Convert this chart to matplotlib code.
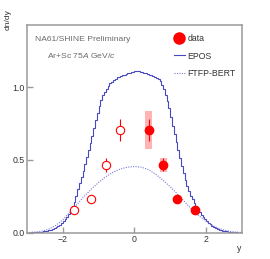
#=========================================================================
# plot.py
#=========================================================================
# NA61/SHINE Ar+Sc 75A GeV/c dn/dy vs rapidity, data vs EPOS and FTFP-BERT

import matplotlib
matplotlib.use('Agg')
import matplotlib.pyplot as plt
from matplotlib.lines import Line2D
import numpy as np

#-------------------------------------------------------------------------
# Data
#-------------------------------------------------------------------------

# measured points (positive rapidity) and their reflection
data_y     = [0.4, 0.8, 1.2, 1.7]
data_val   = [0.707, 0.466, 0.229, 0.155]
data_stat  = [0.075, 0.045, 0.010, 0.010]
data_sys   = [0.132, 0.048, 0.020, 0.015]

refl_y     = [-0.4, -0.8, -1.2, -1.7]
refl_val   = [0.707, 0.463, 0.229, 0.155]
refl_stat  = [0.078, 0.048, 0.010, 0.010]

# EPOS histogram, 0.05 wide bins from -3 to 3
epos_lo    = -3.0
epos_hi    = 3.0
epos_val   = [0.000, 0.000, 0.001, 0.001, 0.002, 0.002, 0.003, 0.004, 0.006, 0.007,
              0.009, 0.011, 0.014, 0.018, 0.023, 0.029, 0.036, 0.044, 0.053, 0.063,
              0.077, 0.091, 0.110, 0.130, 0.153, 0.180, 0.212, 0.250, 0.300, 0.340,
              0.380, 0.425, 0.470, 0.518, 0.568, 0.618, 0.668, 0.720, 0.772, 0.825,
              0.872, 0.910, 0.945, 0.968, 0.992, 1.012, 1.028, 1.040, 1.052, 1.060,
              1.070, 1.075, 1.080, 1.086, 1.088, 1.094, 1.098, 1.101, 1.103, 1.108,
              1.110, 1.114, 1.112, 1.106, 1.104, 1.098, 1.096, 1.090, 1.088, 1.084,
              1.078, 1.072, 1.066, 1.055, 1.042, 1.018, 0.990, 0.950, 0.905, 0.855,
              0.795, 0.735, 0.680, 0.625, 0.570, 0.515, 0.460, 0.408, 0.362, 0.320,
              0.285, 0.252, 0.228, 0.205, 0.182, 0.160, 0.140, 0.122, 0.106, 0.092,
              0.080, 0.068, 0.057, 0.047, 0.038, 0.031, 0.025, 0.020, 0.015, 0.012,
              0.009, 0.007, 0.005, 0.004, 0.003, 0.002, 0.001, 0.001, 0.000, 0.000]

# FTFP-BERT curve
ftfp_y     = [-3.0, -2.8, -2.6, -2.4, -2.2, -2.0, -1.8, -1.6, -1.4, -1.2, -1.0,
              -0.8, -0.6, -0.4, -0.2, 0.0, 0.2, 0.4, 0.6, 0.8, 1.0,
              1.2, 1.4, 1.6, 1.8, 2.0, 2.2, 2.4, 2.6, 2.8, 3.0]
ftfp_val   = [0.000, 0.002, 0.008, 0.022, 0.048, 0.088, 0.140, 0.195, 0.250, 0.300, 0.345,
              0.385, 0.415, 0.437, 0.450, 0.455, 0.450, 0.432, 0.400, 0.360, 0.315,
              0.265, 0.212, 0.160, 0.115, 0.078, 0.045, 0.024, 0.010, 0.003, 0.000]

#-------------------------------------------------------------------------
# Configure matplotlib
#-------------------------------------------------------------------------

plt.rcParams['font.family']      = ['Liberation Sans', 'DejaVu Sans']
plt.rcParams['font.size']        = 6.1
plt.rcParams['mathtext.fontset'] = 'custom'
plt.rcParams['mathtext.rm']      = 'Liberation Sans'
plt.rcParams['mathtext.it']      = 'Liberation Sans:italic'

red      = '#ff0000'
epos_col = '#4848c0'
ftfp_col = '#7a7ad8'
gray     = '#9a9a9a'
txt_col  = '#333333'

#-------------------------------------------------------------------------
# Create plot
#-------------------------------------------------------------------------

fig = plt.figure(figsize=(2.70, 2.59), dpi=100)
ax = fig.add_axes([0.100, 0.1023, 0.796, 0.8012])

edges = np.linspace(epos_lo, epos_hi, len(epos_val) + 1)
ax.stairs(epos_val, edges, color=epos_col, lw=0.8, zorder=2)
ax.plot(ftfp_y, ftfp_val, ls=(0, (1, 1.2)), color=ftfp_col, lw=0.8, zorder=2)

# systematic boxes
for yy, v, s in zip(data_y, data_val, data_sys):
  ax.bar(yy, 2 * s, width=0.2, bottom=v - s, color='#ff9a9a', alpha=0.75,
         lw=0, zorder=3)

ax.errorbar(data_y, data_val, yerr=data_stat, fmt='o', color=red, ms=6.0,
            elinewidth=0.8, capsize=0, zorder=4)
ax.errorbar(refl_y, refl_val, yerr=refl_stat, fmt='o', color=red, mfc='white',
            mec=red, mew=0.8, ms=6.0, elinewidth=0.8, capsize=0, zorder=4)

ax.set_xlim(-3, 3)
ax.set_ylim(0, 1.43)
ax.set_xticks([-2, 0, 2])
ax.set_yticks([0.0, 0.5, 1.0])
ax.set_yticklabels(['0.0', '0.5', '1.0'])
ax.set_xticklabels(['\u22122', '0', '2'])

for side in ['left', 'bottom', 'top', 'right']:
  ax.spines[side].set_color(gray)
  ax.spines[side].set_linewidth(1.1)

ax.tick_params(direction='in', length=4, width=1.0, color=gray, pad=1.5,
               labelsize=6.3, labelcolor=txt_col)

# Text

ax.text(0.036, 0.928, 'NA61/SHINE Preliminary', transform=ax.transAxes,
        color='#6a6a6a', fontsize=6.1, ha='left', va='center')
ax.text(0.092, 0.855, r'Ar+Sc 75$\mathit{A}$ GeV/$\mathit{c}$',
        transform=ax.transAxes, color='#6a6a6a', fontsize=6.1,
        ha='left', va='center')

fig.text(0.018, 0.965, 'dn/dy', rotation=90, ha='left', va='top',
         fontsize=6.0, color=txt_col)
fig.text(0.893, 0.025, 'y', ha='right', va='bottom', fontsize=6.3,
         color=txt_col)

# Legend

handles = [
  Line2D([], [], ls='none', marker='o', color=red, ms=8),
  Line2D([], [], color=epos_col, lw=0.8),
  Line2D([], [], color=ftfp_col, lw=0.8, ls=(0, (1, 1.2))),
]
ax.legend(handles, ['data', 'EPOS', 'FTFP-BERT'], loc='upper right',
          bbox_to_anchor=(1.0, 0.985), frameon=False, fontsize=6.3,
          handlelength=1.3, handletextpad=0.3, labelspacing=0.95,
          borderaxespad=0.3, labelcolor=txt_col)

#-------------------------------------------------------------------------
# Generate PNG
#-------------------------------------------------------------------------

plt.savefig('out.png', dpi=100)
